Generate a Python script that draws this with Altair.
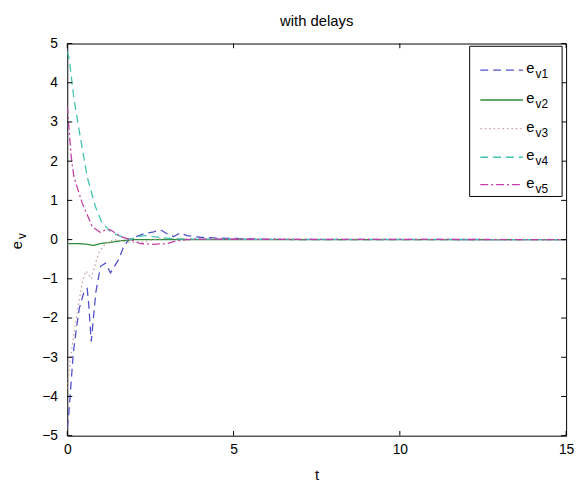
import altair as alt
import pandas as pd

# ---- data ----
names = ["ev1", "ev2", "ev3", "ev4", "ev5"]
labels_sub = ["v1", "v2", "v3", "v4", "v5"]
colors = ["#5050cc", "#2e8b3a", "#c8a0a0", "#40c4b0", "#c040a8"]
dashes = [[8, 5], [1, 0], [1.5, 3], [8, 5], [8, 3, 2, 3]]

t1 = [0, 0.05, 0.18, 0.27, 0.36, 0.5, 0.6, 0.65, 0.72, 0.86, 1.0, 1.15, 1.3, 1.55, 1.7, 1.85, 2.0, 2.3, 2.6, 2.8, 3.0, 3.2, 3.4, 3.6, 4.0, 4.5, 5, 6, 7, 15]
e1 = [-4.8, -4.4, -2.9, -2.3, -1.76, -1.34, -1.25, -1.7, -2.6, -1.34, -0.68, -0.6, -0.85, -0.5, -0.17, 0.0, 0.05, 0.15, 0.2, 0.25, 0.15, 0.08, 0.17, 0.1, 0.06, 0.04, 0.03, 0.01, 0, 0]

t2 = [0, 0.3, 0.6, 0.8, 1.0, 1.3, 1.6, 2.0, 3, 15]
e2 = [-0.1, -0.1, -0.12, -0.15, -0.1, -0.07, -0.03, 0.0, 0.0, 0]

t3 = [0, 0.1, 0.2, 0.33, 0.45, 0.56, 0.65, 0.72, 0.85, 0.95, 1.15, 1.4, 1.7, 2.0, 2.3, 2.7, 3.2, 4, 15]
e3 = [-3.8, -3.0, -2.4, -1.7, -1.1, -0.8, -0.9, -1.0, -0.6, -0.33, -0.1, 0.0, -0.05, -0.07, -0.06, 0.02, 0.03, 0.02, 0]

t4 = [0, 0.06, 0.2, 0.36, 0.6, 0.85, 1.05, 1.33, 1.7, 1.9, 2.1, 2.4, 2.8, 3.2, 4, 15]
e4 = [4.8, 4.6, 3.6, 2.77, 1.6, 0.83, 0.42, 0.18, 0.05, 0.0, 0.08, 0.1, 0.05, 0.02, 0.01, 0]

t5 = [0, 0.12, 0.2, 0.45, 0.75, 1.0, 1.15, 1.3, 1.6, 1.9, 2.2, 2.6, 3.0, 3.3, 3.6, 4, 15]
e5 = [3.4, 2.1, 1.6, 0.93, 0.33, 0.18, 0.25, 0.25, 0.08, 0.0, -0.1, -0.12, -0.1, -0.03, 0.0, 0.01, 0]

x_ticks = [0, 5, 10, 15]
y_ticks = [-5, -4, -3, -2, -1, 0, 1, 2, 3, 4, 5]

FONT = "Liberation Sans"

rows = []
for n, ts, es in zip(names, [t1, t2, t3, t4, t5], [e1, e2, e3, e4, e5]):
    for i, (t, e) in enumerate(zip(ts, es)):
        rows.append({"series": n, "t": t, "e": e, "i": i})
df = pd.DataFrame(rows)

xs = alt.Scale(domain=[0, 15], nice=False)
ys = alt.Scale(domain=[-5, 5], nice=False)
cs = alt.Scale(domain=names, range=colors)
ds = alt.Scale(domain=names, range=dashes)

x_axis = alt.Axis(values=x_ticks, ticks=False, domain=False, grid=False,
                  labelFontSize=14, labelFont=FONT, labelColor="black",
                  labelOverlap=False, labelFlush=False,
                  labelPadding=7, titleFontSize=15, titleFont=FONT,
                  titleFontWeight="normal", titleColor="black", titlePadding=11)
y_axis = alt.Axis(values=y_ticks, ticks=False, domain=False, grid=False,
                  labelFontSize=14, labelFont=FONT, labelColor="black",
                  labelOverlap=False, labelFlush=False, labelPadding=10)


def X(f):
    return alt.X(f, scale=xs, title="t", axis=x_axis)


def Y(f):
    return alt.Y(f, scale=ys, title=None, axis=y_axis)


lines = alt.Chart(df).mark_line(strokeWidth=1.3, clip=True).encode(
    x=X("t:Q"),
    y=Y("e:Q"),
    color=alt.Color("series:N", scale=cs, legend=None),
    strokeDash=alt.StrokeDash("series:N", scale=ds, legend=None),
    order="i:Q",
    detail="series:N",
)

# inward ticks (MATLAB style)
xt_b = pd.DataFrame({"t": x_ticks, "y1": [-5] * 4, "y2": [-4.88] * 4})
xt_t = pd.DataFrame({"t": x_ticks, "y1": [5] * 4, "y2": [4.88] * 4})
yt_l = pd.DataFrame({"e": y_ticks, "x1": [0] * 11, "x2": [0.15] * 11})
yt_r = pd.DataFrame({"e": y_ticks, "x1": [15] * 11, "x2": [14.85] * 11})
tick_b = alt.Chart(xt_b).mark_rule(color="black").encode(x=X("t:Q"), y=Y("y1:Q"), y2="y2:Q")
tick_t = alt.Chart(xt_t).mark_rule(color="black").encode(x=X("t:Q"), y=Y("y1:Q"), y2="y2:Q")
tick_l = alt.Chart(yt_l).mark_rule(color="black").encode(y=Y("e:Q"), x=X("x1:Q"), x2="x2:Q")
tick_r = alt.Chart(yt_r).mark_rule(color="black").encode(y=Y("e:Q"), x=X("x1:Q"), x2="x2:Q")

# legend box (in data coordinates)
box = alt.Chart(pd.DataFrame({"x1": [12.10], "x2": [14.88], "y1": [4.93], "y2": [1.10]})).mark_rect(
    fill="white", stroke="black", strokeWidth=1
).encode(x=X("x1:Q"), x2="x2:Q", y=Y("y1:Q"), y2="y2:Q")

leg = pd.DataFrame({
    "series": names,
    "sub": labels_sub,
    "ly": [4.32, 3.56, 2.83, 2.10, 1.40],
    "lx1": [12.42] * 5,
    "lx2": [13.70] * 5,
    "tx": [13.80] * 5,
    "sx": [14.08] * 5,
})
leg_lines = alt.Chart(leg).mark_rule(strokeWidth=1.3).encode(
    x=X("lx1:Q"), x2="lx2:Q", y=Y("ly:Q"),
    color=alt.Color("series:N", scale=cs, legend=None),
    strokeDash=alt.StrokeDash("series:N", scale=ds, legend=None),
)
leg_e = alt.Chart(leg).mark_text(align="left", baseline="middle", fontSize=15, font=FONT, dy=-2).encode(
    x=X("tx:Q"), y=Y("ly:Q"), text=alt.value("e"))
leg_s = alt.Chart(leg).mark_text(align="left", baseline="middle", fontSize=12, font=FONT, dy=4).encode(
    x=X("sx:Q"), y=Y("ly:Q"), text="sub:N")

# y axis title e_v
ytitle_e = alt.Chart(pd.DataFrame({"a": [0]})).mark_text(
    angle=270, align="center", baseline="middle", fontSize=15, font=FONT
).encode(x=alt.value(-51), y=alt.value(204), text=alt.value("e"))
ytitle_v = alt.Chart(pd.DataFrame({"a": [0]})).mark_text(
    angle=270, align="center", baseline="middle", fontSize=12, font=FONT
).encode(x=alt.value(-46), y=alt.value(195), text=alt.value("v"))

chart = alt.layer(
    lines, tick_b, tick_t, tick_l, tick_r, box, leg_lines, leg_e, leg_s, ytitle_e, ytitle_v
).properties(
    width=505, height=397,
    title=alt.TitleParams("with delays", fontSize=15, font=FONT, fontWeight="normal",
                          color="black", offset=8),
    autosize=alt.AutoSizeParams(type="none"),
    padding={"left": 60, "top": 33, "right": 9, "bottom": 50},
    background="white",
).configure_view(stroke="#000000", strokeWidth=1)

chart.save("out.html", embed_options={"renderer": "svg", "actions": False})
